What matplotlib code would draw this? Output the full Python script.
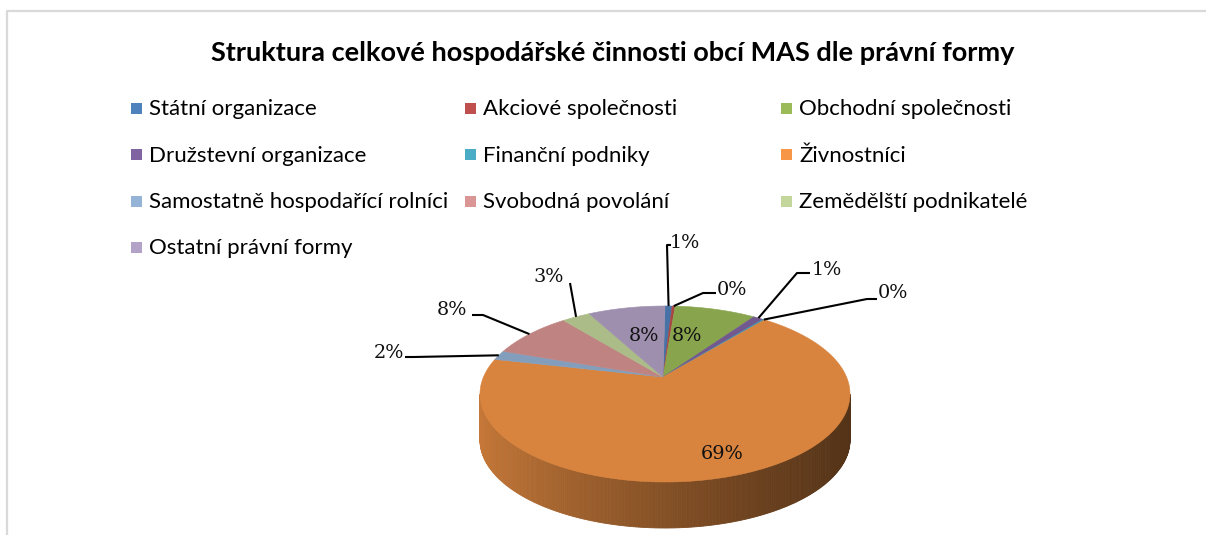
import numpy as np
import matplotlib.pyplot as plt
from matplotlib.patches import Polygon, Rectangle
from matplotlib.colors import to_rgb

# data (percent of all businesses)
categories = ['Státní organizace', 'Akciové společnosti', 'Obchodní společnosti',
              'Družstevní organizace', 'Finanční podniky', 'Živnostníci',
              'Samostatně hospodařící rolníci', 'Svobodná povolání',
              'Zemědělští podnikatelé', 'Ostatní právní formy']
shares = [0.7, 0.3, 8.0, 1.0, 0.2, 69.4, 1.7, 8.3, 2.8, 7.6]
colors = ['#4F81BD', '#C0504D', '#9BBB59', '#8064A2', '#4BACC6',
          '#F79646', '#95B3D7', '#D99694', '#C3D69B', '#B3A2C7']
title = 'Struktura celkové hospodářské činnosti obcí MAS dle právní formy'

# layout, in pixels of the 1206x535 picture
W, H = 1206, 535
cx, cy = 665, 394          # centre of the top ellipse
rx, ry = 185, 88           # radii of the top ellipse
depth = 46                 # height of the side wall
apex = (663, 377)          # where the wedges meet (perspective)
persp = 0.12               # back of the pie looks squeezed

# text centre of each data label, and leader points (None = inside label)
label_xy = [(685, 241), (732, 288), (687, 334), (827, 268), (893, 291),
            (722, 452), (389, 351), (452, 308), (549, 275), (644, 334)]
leaders = [[(667, 245), (671, 245)], [(703, 293), (716, 293)], None,
           [(797, 273), (810, 273)], [(867, 299), (877, 299)], None,
           [(414, 357), (405, 357)], [(483, 315), (472, 315)],
           [(570, 283)], None]

fig = plt.figure(figsize=(W / 100, H / 100), dpi=100)
ax = fig.add_axes([0, 0, 1, 1])
ax.set_xlim(0, W)
ax.set_ylim(H, 0)
ax.axis('off')


def warp(phi):
    # clockwise angle from 12 o'clock -> angle seen in the tilted picture
    return phi - persp * np.sin(phi)


def edge(phi):
    return cx + rx * np.sin(phi), cy - ry * np.cos(phi)


bounds = np.concatenate([[0], np.cumsum(shares)]) / np.sum(shares) * 2 * np.pi
starts, ends = warp(bounds[:-1]), warp(bounds[1:])

# side wall, shaded from left to right
side = np.linspace(np.pi / 2, 3 * np.pi / 2, 241)
for p0, p1 in zip(side[:-1], side[1:]):
    pm = 0.5 * (p0 + p1)
    k = np.searchsorted(ends, pm)
    x0, y0 = edge(p0)
    x1, y1 = edge(p1)
    t = ((x0 + x1) / 2 - (cx - rx)) / (2 * rx)
    f = 0.80 - 0.46 * t ** 0.8
    c = np.array(to_rgb(colors[k])) * f
    ax.add_patch(Polygon([(x0, y0), (x1, y1), (x1, y1 + depth), (x0, y0 + depth)],
                         closed=True, facecolor=c, edgecolor=c, lw=0.6))

# top face
for s, e, col in zip(starts, ends, colors):
    ph = np.linspace(s, e, max(3, int((e - s) * 80)))
    xs, ys = edge(ph)
    pts = [apex] + list(zip(xs, ys))
    c = np.array(to_rgb(col)) * 0.88
    ax.add_patch(Polygon(pts, closed=True, facecolor=c, edgecolor=c, lw=0.4))

# data labels
lab_font = dict(family='DejaVu Serif', fontsize=13.9, color='#111111')
for s, e, v, xy, ld in zip(starts, ends, shares, label_xy, leaders):
    ax.text(xy[0], xy[1] + 2, f'{round(v)}%', ha='center', va='center', **lab_font)
    if ld is not None:
        pts = [edge((s + e) / 2)] + ld
        ax.plot([p[0] for p in pts], [p[1] for p in pts], color='black', lw=1.5,
                solid_capstyle='butt')

# title
ax.text(613, 53, title, ha='center', va='center', fontsize=19.5,
        fontweight='bold', family='Lato')

# legend, filled row by row like Excel
col_x = [131, 465, 781]
row_y = [108, 154.5, 201, 247]
for i, (name, col) in enumerate(zip(categories, colors)):
    x, y = col_x[i % 3], row_y[i // 3]
    ax.add_patch(Rectangle((x, y - 5.5), 11, 11, facecolor=col, edgecolor='none'))
    ax.text(x + 18, y + 1, name, ha='left', va='center', fontsize=16.0, family='Lato')

# chart frame (only top and left edges are inside the crop)
ax.plot([7, 7, W], [H, 11, 11], color='#D9D9D9', lw=1.6)

fig.savefig('out.png', dpi=100)
